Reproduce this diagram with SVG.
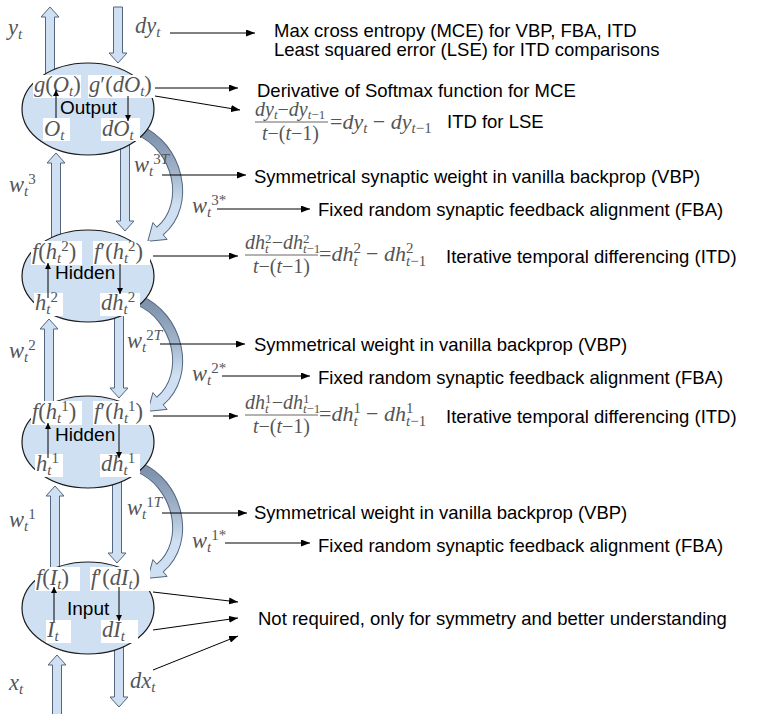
<svg xmlns="http://www.w3.org/2000/svg" width="762" height="714" viewBox="0 0 762 714">
<style>
.lbl{font-family:"Liberation Sans",Arial,sans-serif;font-size:18.5px;fill:#000}
.nd{font-family:"Liberation Sans",Arial,sans-serif;font-size:19px;fill:#000}
.m{font-family:"Liberation Serif","DejaVu Serif",serif;font-style:italic;fill:#555;font-size:22.5px}
.f{font-size:20px}
.r{font-size:22px}
.s{font-size:15px}
.s2{font-size:13px}
.u{font-style:normal}
.ell{fill:#cfe0f2;stroke:#1a1a1a;stroke-width:1.2}
.blk{fill:#cfe0f2;stroke:#53657f;stroke-width:1}
.bg{fill:#fff}
.con{stroke:#000;stroke-width:1;fill:none;marker-end:url(#ah)}
.sa{stroke:#000;stroke-width:1;fill:none;marker-end:url(#sm)}
.fl{stroke:#666;stroke-width:1}
</style>
<defs>
<marker id="ah" markerUnits="userSpaceOnUse" markerWidth="9" markerHeight="7" refX="9" refY="3.5" orient="auto"><path d="M0,0 L9,3.5 L0,7 Z" fill="#000"/></marker>
<marker id="sm" markerUnits="userSpaceOnUse" markerWidth="6" markerHeight="6" refX="6" refY="3" orient="auto"><path d="M0,0 L6,3 L0,6 Z" fill="#000"/></marker>
<linearGradient id="cg" gradientUnits="userSpaceOnUse" x1="0" y1="135" x2="0" y2="205"><stop offset="0" stop-color="#7f93ad"/><stop offset="0.5" stop-color="#9fb2c8"/><stop offset="1" stop-color="#cfe0f2"/></linearGradient>
<g id="curv">
<path d="M138,130 C178,146 192,204 160,231 l-1.5,1.3" stroke="#53657f" stroke-width="11" fill="none"/>
<polygon points="167.1,239.4 147.8,241.3 152.9,222.6" fill="#cfe0f2" stroke="#53657f" stroke-width="1"/>
<path d="M138,130 C178,146 192,204 160,231 l-1.5,1.3" stroke="url(#cg)" stroke-width="9" fill="none"/>
</g>
</defs>
<rect width="762" height="714" fill="#fff"/>
<g id="connectors">
<path class="blk" d="M45.5,90 V17 H41 L50,7 L59,17 H54.5 V90 Z"/>
<path class="blk" d="M51.5,260 V163 H47 L56,153 L65,163 H60.5 V260 Z"/>
<path class="blk" d="M44.5,425 V329 H40 L49,319 L58,329 H53.5 V425 Z"/>
<path class="blk" d="M50.5,590 V496 H46 L55,486 L64,496 H59.5 V590 Z"/>
<path class="blk" d="M52.5,716 V665 H48 L57,655 L66,665 H61.5 V716 Z"/>
<path class="blk" d="M113.5,7 H122.5 V53 H127 L118,63 L109,53 H113.5 Z"/>
<path class="blk" d="M120.5,130 H129.5 V221 H134 L125,231 L116,221 H120.5 Z"/>
<path class="blk" d="M114.5,300 H123.5 V388 H128 L119,398 L110,388 H114.5 Z"/>
<path class="blk" d="M112.5,465 H121.5 V553 H126 L117,563 L108,553 H112.5 Z"/>
<path class="blk" d="M114.5,640 H123.5 V697 H128 L119,707 L110,697 H114.5 Z"/>
<use href="#curv"/>
<use href="#curv" transform="translate(0,170)"/>
<use href="#curv" transform="translate(0,337)"/>
</g>
<g id="output">
<ellipse class="ell" cx="88" cy="109" rx="66" ry="46"/>
<rect class="bg" x="33" y="75" width="48" height="23"/>
<text class="m" x="34" y="92">g<tspan class="u">(</tspan>O<tspan class="s" dy="4">t</tspan><tspan class="u" dy="-4">)</tspan></text>
<rect class="bg" x="88" y="75" width="66" height="23"/>
<text class="m" x="89" y="92">g<tspan class="u">′(</tspan>dO<tspan class="s" dy="4">t</tspan><tspan class="u" dy="-4">)</tspan></text>
<text class="nd" x="60" y="114">Output</text>
<rect class="bg" x="43" y="118" width="27" height="23"/>
<text class="m" x="44" y="136">O<tspan class="s" dy="4">t</tspan></text>
<rect class="bg" x="101" y="118" width="39" height="23"/>
<text class="m" x="102" y="136">dO<tspan class="s" dy="4">t</tspan></text>
<line class="sa" x1="56" y1="118" x2="56" y2="90"/>
<line class="sa" x1="128" y1="96" x2="128" y2="121"/>
</g>
<g id="hidden2">
<ellipse class="ell" cx="88" cy="276" rx="66" ry="46"/>
<rect class="bg" x="31" y="241" width="51" height="24"/>
<text class="m" x="32" y="259">f<tspan class="u">(</tspan>h<tspan class="s" dy="4">t</tspan><tspan class="s u" dy="-12">2</tspan><tspan class="u" dy="8">)</tspan></text>
<rect class="bg" x="93" y="241" width="57" height="24"/>
<text class="m" x="94" y="259">f<tspan class="u">′(</tspan>h<tspan class="s" dy="4">t</tspan><tspan class="s u" dy="-12">2</tspan><tspan class="u" dy="8">)</tspan></text>
<text class="nd" x="55" y="279">Hidden</text>
<rect class="bg" x="34" y="293" width="29" height="23"/>
<text class="m" x="35" y="310">h<tspan class="s" dy="4">t</tspan><tspan class="s u" dy="-12">2</tspan></text>
<rect class="bg" x="100" y="293" width="40" height="23"/>
<text class="m" x="101" y="310">dh<tspan class="s" dy="4">t</tspan><tspan class="s u" dy="-12">2</tspan></text>
<line class="sa" x1="48" y1="298" x2="48" y2="263"/>
<line class="sa" x1="120" y1="264" x2="120" y2="294"/>
</g>
<g id="hidden1">
<ellipse class="ell" cx="88" cy="442" rx="66" ry="46"/>
<rect class="bg" x="31" y="401" width="51" height="24"/>
<text class="m" x="32" y="419">f<tspan class="u">(</tspan>h<tspan class="s" dy="4">t</tspan><tspan class="s u" dy="-12">1</tspan><tspan class="u" dy="8">)</tspan></text>
<rect class="bg" x="93" y="401" width="57" height="24"/>
<text class="m" x="94" y="419">f<tspan class="u">′(</tspan>h<tspan class="s" dy="4">t</tspan><tspan class="s u" dy="-12">1</tspan><tspan class="u" dy="8">)</tspan></text>
<text class="nd" x="55" y="441">Hidden</text>
<rect class="bg" x="35" y="454" width="28" height="23"/>
<text class="m" x="36" y="471">h<tspan class="s" dy="4">t</tspan><tspan class="s u" dy="-12">1</tspan></text>
<rect class="bg" x="100" y="454" width="40" height="23"/>
<text class="m" x="101" y="471">dh<tspan class="s" dy="4">t</tspan><tspan class="s u" dy="-12">1</tspan></text>
<line class="sa" x1="48" y1="458" x2="48" y2="423"/>
<line class="sa" x1="119" y1="424" x2="119" y2="458"/>
</g>
<g id="input">
<ellipse class="ell" cx="88" cy="608" rx="66" ry="46"/>
<rect class="bg" x="35" y="567" width="45" height="24"/>
<text class="m" x="36" y="585">f<tspan class="u">(</tspan>I<tspan class="s" dy="4">t</tspan><tspan class="u" dy="-4">)</tspan></text>
<rect class="bg" x="90" y="567" width="60" height="24"/>
<text class="m" x="91" y="585">f<tspan class="u">′(</tspan>dI<tspan class="s" dy="4">t</tspan><tspan class="u" dy="-4">)</tspan></text>
<text class="nd" x="67" y="615">Input</text>
<rect class="bg" x="46" y="620" width="25" height="23"/>
<text class="m" x="47" y="637">I<tspan class="s" dy="4">t</tspan></text>
<rect class="bg" x="101" y="620" width="37" height="23"/>
<text class="m" x="102" y="637">dI<tspan class="s" dy="4">t</tspan></text>
<line class="sa" x1="54" y1="622" x2="54" y2="587"/>
<line class="sa" x1="119" y1="587" x2="119" y2="621"/>
</g>
<g id="arrow-labels">
<text class="m" x="8" y="35" font-size="25">y<tspan class="s" font-size="16" dy="4">t</tspan></text>
<text class="m" x="135" y="33">dy<tspan class="s" dy="4">t</tspan></text>
<text class="m" x="9" y="192">w<tspan class="s" dy="4">t</tspan><tspan class="s u" dy="-12">3</tspan></text>
<text class="m" x="134" y="172">w<tspan class="s" dy="4">t</tspan><tspan class="s" dy="-12"><tspan class="u">3</tspan>T</tspan></text>
<text class="m" x="192" y="213">w<tspan class="s" dy="4">t</tspan><tspan class="s u" dy="-12">3*</tspan></text>
<text class="m" x="9" y="358">w<tspan class="s" dy="4">t</tspan><tspan class="s u" dy="-12">2</tspan></text>
<text class="m" x="127" y="348">w<tspan class="s" dy="4">t</tspan><tspan class="s" dy="-12"><tspan class="u">2</tspan>T</tspan></text>
<text class="m" x="192" y="381">w<tspan class="s" dy="4">t</tspan><tspan class="s u" dy="-12">2*</tspan></text>
<text class="m" x="9" y="527">w<tspan class="s" dy="4">t</tspan><tspan class="s u" dy="-12">1</tspan></text>
<text class="m" x="127" y="515">w<tspan class="s" dy="4">t</tspan><tspan class="s" dy="-12"><tspan class="u">1</tspan>T</tspan></text>
<text class="m" x="192" y="548">w<tspan class="s" dy="4">t</tspan><tspan class="s u" dy="-12">1*</tspan></text>
<text class="m" x="9" y="690" font-size="27">x<tspan class="s" font-size="17" dy="4">t</tspan></text>
<text class="m" x="130" y="688">dx<tspan class="s" dy="4">t</tspan></text>
</g>
<g id="annotation-connectors">
<line class="con" x1="170" y1="33" x2="255" y2="33"/>
<line class="con" x1="155" y1="88" x2="238" y2="88"/>
<line class="con" x1="155" y1="96" x2="240" y2="110"/>
<line class="con" x1="162" y1="175" x2="246" y2="175"/>
<line class="con" x1="217" y1="209" x2="310" y2="209"/>
<line class="con" x1="153" y1="256" x2="238" y2="256"/>
<line class="con" x1="160" y1="344" x2="245" y2="344"/>
<line class="con" x1="222" y1="376" x2="310" y2="376"/>
<line class="con" x1="153" y1="416" x2="238" y2="416"/>
<line class="con" x1="162" y1="513" x2="247" y2="513"/>
<line class="con" x1="225" y1="543" x2="310" y2="543"/>
<line class="con" x1="153" y1="592" x2="238" y2="602"/>
<line class="con" x1="153" y1="630" x2="238" y2="618"/>
<line class="con" x1="153" y1="670" x2="238" y2="636"/>
</g>
<g id="equations">
<text class="m f" x="255" y="116">dy<tspan class="s2" dy="3">t</tspan><tspan class="u" dy="-3">−</tspan>dy<tspan class="s2" dy="3">t<tspan class="u">−1</tspan></tspan></text>
<line class="fl" x1="255" y1="122" x2="328" y2="122"/>
<text class="m f" x="262" y="140">t<tspan class="u">−(</tspan>t<tspan class="u">−1)</tspan></text>
<text class="m r" x="330" y="129"><tspan class="u">=</tspan>dy<tspan class="s" dy="4">t</tspan><tspan class="u" dy="-4"> − </tspan>dy<tspan class="s" dy="4">t<tspan class="u">−1</tspan></tspan></text>

<text class="m f" x="245" y="249">dh<tspan class="s2 u" dy="-6">2</tspan><tspan class="s2" dx="-6.5" dy="10">t</tspan><tspan class="u" dx="3" dy="-4">−</tspan>dh<tspan class="s2 u" dy="-6">2</tspan><tspan class="s2" dx="-6.5" dy="10">t<tspan class="u">−1</tspan></tspan></text>
<line class="fl" x1="245" y1="255" x2="318" y2="255"/>
<text class="m f" x="253" y="273">t<tspan class="u">−(</tspan>t<tspan class="u">−1)</tspan></text>
<text class="m r" x="319" y="261"><tspan class="u">=</tspan>dh<tspan class="s u" dy="-8">2</tspan><tspan class="s" dx="-7.5" dy="13">t</tspan><tspan class="u" dx="3" dy="-5"> − </tspan>dh<tspan class="s u" dy="-8">2</tspan><tspan class="s" dx="-7.5" dy="13">t<tspan class="u">−1</tspan></tspan></text>

<text class="m f" x="245" y="409">dh<tspan class="s2 u" dy="-6">1</tspan><tspan class="s2" dx="-6.5" dy="10">t</tspan><tspan class="u" dx="3" dy="-4">−</tspan>dh<tspan class="s2 u" dy="-6">1</tspan><tspan class="s2" dx="-6.5" dy="10">t<tspan class="u">−1</tspan></tspan></text>
<line class="fl" x1="245" y1="415" x2="318" y2="415"/>
<text class="m f" x="253" y="433">t<tspan class="u">−(</tspan>t<tspan class="u">−1)</tspan></text>
<text class="m r" x="319" y="421"><tspan class="u">=</tspan>dh<tspan class="s u" dy="-8">1</tspan><tspan class="s" dx="-7.5" dy="13">t</tspan><tspan class="u" dx="3" dy="-5"> − </tspan>dh<tspan class="s u" dy="-8">1</tspan><tspan class="s" dx="-7.5" dy="13">t<tspan class="u">−1</tspan></tspan></text>
</g>
<g id="notes">
<text class="lbl" x="274" y="37">Max cross entropy (MCE) for VBP, FBA, ITD</text>
<text class="lbl" x="274" y="56">Least squared error (LSE) for ITD comparisons</text>
<text class="lbl" x="257" y="97">Derivative of Softmax function for MCE</text>
<text class="lbl" x="447" y="128">ITD for LSE</text>
<text class="lbl" x="254" y="183">Symmetrical synaptic weight in vanilla backprop (VBP)</text>
<text class="lbl" x="318" y="216">Fixed random synaptic feedback alignment (FBA)</text>
<text class="lbl" x="446" y="263">Iterative temporal differencing (ITD)</text>
<text class="lbl" x="254" y="351">Symmetrical weight in vanilla backprop (VBP)</text>
<text class="lbl" x="318" y="384">Fixed random synaptic feedback alignment (FBA)</text>
<text class="lbl" x="446" y="423">Iterative temporal differencing (ITD)</text>
<text class="lbl" x="254" y="519">Symmetrical weight in vanilla backprop (VBP)</text>
<text class="lbl" x="318" y="552">Fixed random synaptic feedback alignment (FBA)</text>
<text class="lbl" x="258" y="625">Not required, only for symmetry and better understanding</text>
</g>
</svg>
